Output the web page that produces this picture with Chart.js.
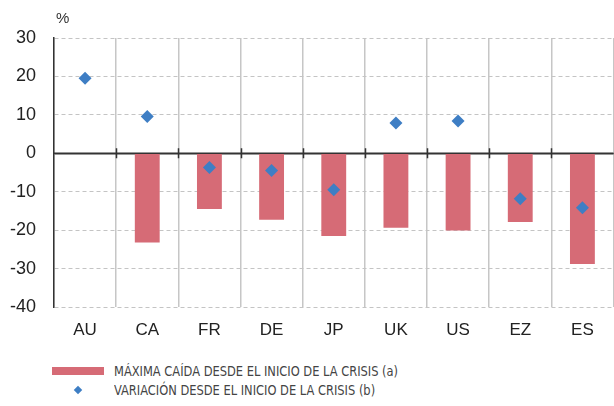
<!DOCTYPE html>
<html>
<head>
<meta charset="utf-8">
<script src="https://cdn.jsdelivr.net/npm/chart.js@4.4.1/dist/chart.umd.min.js"></script>
<style>
  html, body { margin: 0; padding: 0; background: #fff; overflow: hidden; }
  #wrap { position: relative; width: 614px; height: 406px; overflow: hidden; }
  #chart { position: absolute; left: 0; top: 0; }
  .unit { position: absolute; left: 56px; top: 9px; font: 15px "Liberation Sans", Arial, sans-serif; color: #333; }
  .legend { position: absolute; left: 52px; top: 362px; font: 14px "Liberation Sans Narrow", "DejaVu Sans Condensed", sans-serif; color: #444; }
  .legend div { height: 19px; line-height: 19px; position: relative; padding-left: 62px; white-space: nowrap; }
  .legend .txt { display: inline-block; transform: scaleX(0.91); transform-origin: 0 50%; }
  .sw-bar { position: absolute; left: 0; top: 5px; width: 52px; height: 8px; }
  .sw-pt { position: absolute; left: 23px; top: 6px; width: 6px; height: 6px; transform: rotate(45deg); }
</style>
</head>
<body>
<div id="wrap">
  <canvas id="chart" width="620" height="345" style="width:620px;height:345px;"></canvas>
  <div class="unit">%</div>
  <div class="legend" id="legend"></div>
</div>
<script>
// Data
const categories = ['AU', 'CA', 'FR', 'DE', 'JP', 'UK', 'US', 'EZ', 'ES'];
const maxFall = [0, -23.2, -14.5, -17.3, -21.5, -19.4, -20.1, -17.9, -28.8];
const sinceStart = [19.5, 9.6, -3.7, -4.5, -9.5, 7.9, 8.4, -11.8, -14.2];
const yTicks = [30, 20, 10, 0, -10, -20, -30, -40];
const seriesNames = ['MÁXIMA CAÍDA DESDE EL INICIO DE LA CRISIS (a)', 'VARIACIÓN DESDE EL INICIO DE LA CRISIS (b)'];

const barColor = '#d66b76';
const ptColor = '#3e7ec4';

// short tick marks on the zero line at each category boundary
const zeroTicks = {
    id: 'zeroTicks',
    afterDatasetsDraw(chart) {
        const x = chart.scales.x, y = chart.scales.y;
        const y0 = y.getPixelForValue(0);
        const step = x.getPixelForValue(1) - x.getPixelForValue(0);
        const ctx = chart.ctx;
        ctx.save();
        ctx.strokeStyle = '#333';
        ctx.lineWidth = 1.5;
        ctx.beginPath();
        ctx.moveTo(chart.chartArea.left, y0);
        ctx.lineTo(chart.chartArea.right, y0);
        for (let i = 1; i < categories.length; i++) {
            const px = Math.round(x.getPixelForValue(i) - step / 2) + 0.5;
            ctx.moveTo(px, y0 - 5);
            ctx.lineTo(px, y0 + 5);
        }
        ctx.stroke();
        ctx.restore();
    }
};

new Chart(document.getElementById('chart').getContext('2d'), {
    type: 'bar',
    data: {
        labels: categories,
        datasets: [{
            type: 'line',
            label: seriesNames[1],
            data: sinceStart,
            showLine: false,
            pointStyle: 'rectRot',
            pointRadius: 6.5,
            pointBackgroundColor: ptColor,
            pointBorderColor: ptColor,
            pointBorderWidth: 0,
            order: 0
        }, {
            label: seriesNames[0],
            data: maxFall,
            backgroundColor: barColor,
            barPercentage: 0.4,
            categoryPercentage: 1,
            order: 1
        }]
    },
    options: {
        responsive: false,
        animation: false,
        layout: { padding: { top: 38, right: 4, left: 0, bottom: 0 } },
        plugins: { legend: { display: false }, tooltip: { enabled: false } },
        scales: {
            x: {
                offset: true,
                grid: { offset: true, color: '#c6c6c6', lineWidth: 1.5, drawTicks: false },
                border: { display: false },
                ticks: { color: '#222', padding: 13, font: { family: 'Liberation Sans', size: 17 } },
                afterFit(s) { s.height = 38; }
            },
            y: {
                min: -40,
                max: 30,
                afterBuildTicks(s) { s.ticks = yTicks.map(v => ({ value: v })); },
                grid: {
                    drawTicks: false,
                    color: c => (c.tick && c.tick.value === 0) ? '#333' : '#c4c4c4',
                    lineWidth: c => (c.tick && c.tick.value === 0) ? 1.5 : 1
                },
                border: {
                    display: true,
                    color: '#333',
                    width: 1.5,
                    dash: c => (c.tick && c.tick.value !== 0) ? [4, 3] : []
                },
                ticks: { color: '#222', padding: 18, font: { family: 'Liberation Sans', size: 18 } },
                afterFit(s) { s.width = 54; }
            }
        }
    },
    plugins: [zeroTicks]
});

// legend
const lg = document.getElementById('legend');
lg.innerHTML =
    '<div><span class="sw-bar" style="background:' + barColor + '"></span><span class="txt">' + seriesNames[0] + '</span></div>' +
    '<div><span class="sw-pt" style="background:' + ptColor + '"></span><span class="txt">' + seriesNames[1] + '</span></div>';
</script>
</body>
</html>
